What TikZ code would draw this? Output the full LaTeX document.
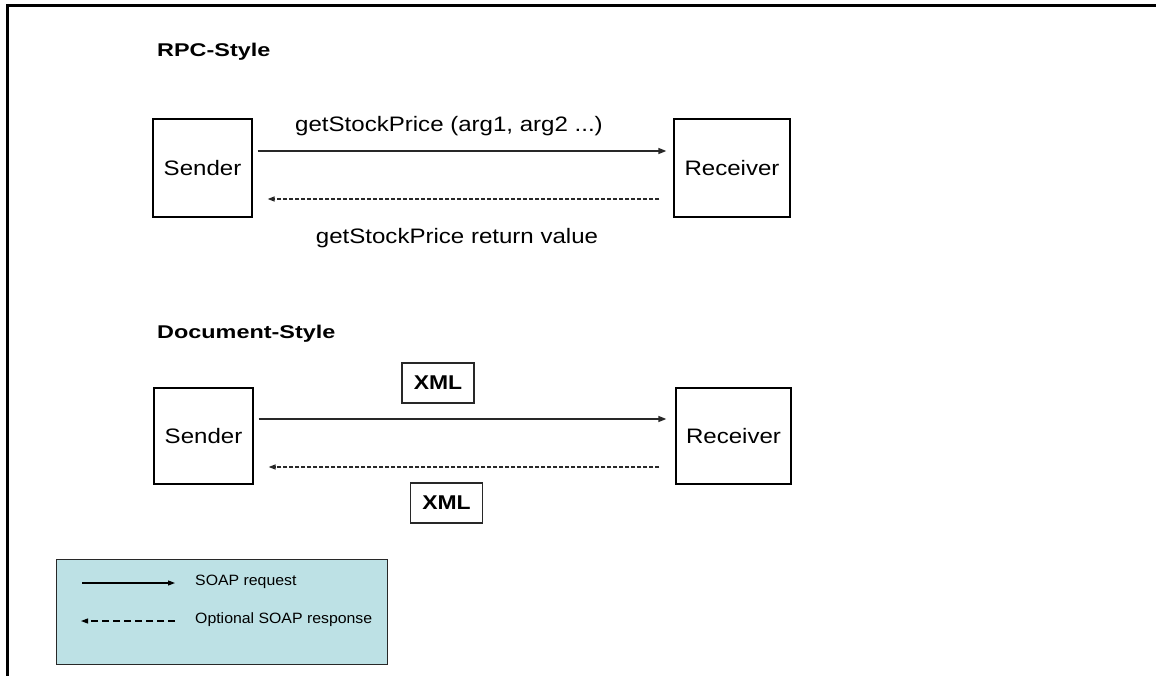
\documentclass[tikz,border=0pt]{standalone}
\usepackage{fontspec}
\setmainfont{Liberation Sans}
\newfontfamily\headfont[FakeStretch=1.27]{Liberation Sans}
\newfontfamily\bodyfont[FakeStretch=1.15]{Liberation Sans}
\newfontfamily\keyfont[FakeStretch=1.06]{Liberation Sans}
\usetikzlibrary{arrows.meta}
\definecolor{keyfill}{RGB}{189,225,229}
\definecolor{linegray}{RGB}{40,40,40}
\tikzset{
  heading/.style={anchor=base west, inner sep=0pt, font=\headfont\bfseries\fontsize{18.5}{20}\selectfont},
  party/.style={draw=black, line width=1.3bp, inner sep=0pt, font=\bodyfont\fontsize{21}{24}\selectfont},
  msglabel/.style={anchor=base, inner sep=0pt, font=\bodyfont\fontsize{21}{24}\selectfont},
  xmlbox/.style={draw=linegray, line width=1.3bp, minimum width=72bp, minimum height=40bp, inner sep=0pt, font=\bodyfont\bfseries\fontsize{20}{22}\selectfont},
  request/.style={draw=linegray, line width=1.4bp, -{Triangle[length=8bp,width=6bp]}},
  response/.style={draw=linegray, line width=1.4bp, dash pattern=on 4bp off 2bp, -{Triangle[length=7bp,width=5bp]}},
  keytext/.style={anchor=west, inner sep=0pt, font=\keyfont\fontsize{15}{17}\selectfont},
}
\begin{document}
\begin{tikzpicture}[x=1bp, y=-1bp]
\useasboundingbox (0,0) rectangle (1156,676);

% outer frame (top and left edges)
\draw[line width=2.6bp] (7.5,676) -- (7.5,5.5) -- (1156,5.5);

% ---- RPC style ----
\node[heading] (rpch) at (157,57) {RPC-Style};
\node[party, minimum width=99bp, minimum height=98bp] (s1) at (202.5,168) {Sender};
\node[party, minimum width=116bp, minimum height=98bp] (r1) at (732,168) {Receiver};
\draw[request]  ([xshift=5bp,yshift=17bp]s1.east) -- ([xshift=-7bp,yshift=17bp]r1.west);
\draw[response] ([xshift=-14bp,yshift=-31bp]r1.west) -- ([xshift=15bp,yshift=-31bp]s1.east);
\node[msglabel] (call) at (449,132) {getStockPrice (arg1, arg2 ...)};
\node[msglabel] (ret) at (457,243) {getStockPrice return value};

% ---- Document style ----
\node[heading] (doch) at (157,338) {Document-Style};
\node[party, minimum width=99bp, minimum height=96bp] (s2) at (203.5,436) {Sender};
\node[party, minimum width=115bp, minimum height=96bp] (r2) at (733.5,436) {Receiver};
\draw[request]  ([xshift=5bp,yshift=17bp]s2.east) -- ([xshift=-9bp,yshift=17bp]r2.west);
\draw[response] ([xshift=-16bp,yshift=-31bp]r2.west) -- ([xshift=15bp,yshift=-31bp]s2.east);
\node[xmlbox] (x1) at (438,383) {XML};
\node[xmlbox] (x2) at (446.5,503) {XML};

% ---- key ----
\node[draw=linegray, fill=keyfill, line width=1bp, minimum width=330bp, minimum height=105bp, inner sep=0pt] (key) at (222,611.5) {};
\coordinate (k1a) at (82,583);
\coordinate (k1b) at (175,583);
\coordinate (k2a) at (175,621);
\coordinate (k2b) at (81,621);
\draw[draw=black, line width=1.1bp, -{Triangle[length=7bp,width=5bp]}] (k1a) -- (k1b);
\draw[draw=black, line width=1.1bp, dash pattern=on 7bp off 4bp, -{Triangle[length=7bp,width=5bp]}] (k2a) -- (k2b);
\node[keytext] (kt1) at (195,582) {SOAP request};
\node[keytext] (kt2) at (195,620) {Optional SOAP response};
\end{tikzpicture}
\end{document}
